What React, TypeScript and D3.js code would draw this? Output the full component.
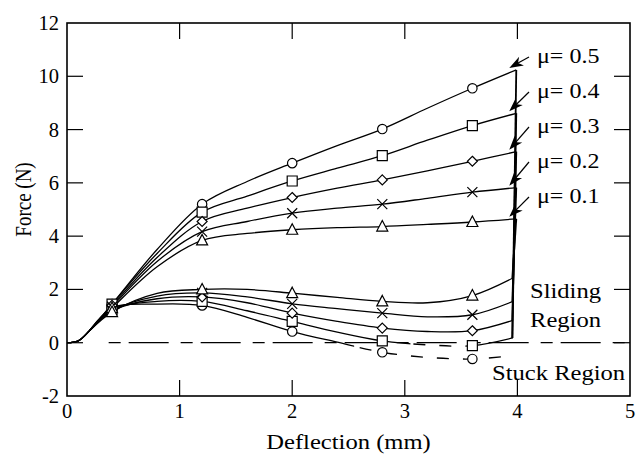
import React from 'react';
import * as d3 from 'd3';

// friction coefficients, top curve first
const mu = [0.5, 0.4, 0.3, 0.2, 0.1];
const shapes = ['circle', 'square', 'diamond', 'cross', 'triangle'];

// loading branch (upper curves)
const loadX = [0, 0.1, 0.2, 0.4, 0.8, 1.2, 1.6, 2.0, 2.4, 2.8, 3.2, 3.6, 3.99];
const loadForce = [
  [0, 0.07, 0.45, 1.45, 3.5, 5.2, 6.05, 6.74, 7.4, 8.02, 8.8, 9.55, 10.24],
  [0, 0.07, 0.45, 1.45, 3.35, 4.9, 5.5, 6.07, 6.55, 7.02, 7.6, 8.15, 8.61],
  [0, 0.07, 0.45, 1.4, 3.2, 4.55, 5.05, 5.45, 5.8, 6.11, 6.45, 6.81, 7.17],
  [0, 0.07, 0.45, 1.35, 3.05, 4.17, 4.55, 4.86, 5.05, 5.2, 5.42, 5.65, 5.82],
  [0, 0.07, 0.45, 1.3, 2.85, 3.84, 4.1, 4.24, 4.32, 4.36, 4.44, 4.53, 4.65],
];

// unloading branch (lower curves)
const unloadX = [0.2, 0.4, 0.8, 1.2, 1.6, 2.0, 2.4, 2.8, 3.2, 3.6, 3.96];
const unloadForce = [
  [0.45, 1.3, 1.45, 1.4, 0.95, 0.42, 0.02, -0.36, -0.55, -0.61, -0.49],
  [0.45, 1.25, 1.55, 1.55, 1.2, 0.8, 0.4, 0.07, -0.08, -0.11, 0.18],
  [0.45, 1.2, 1.65, 1.72, 1.5, 1.11, 0.8, 0.55, 0.42, 0.45, 0.84],
  [0.45, 1.2, 1.75, 1.87, 1.72, 1.46, 1.28, 1.11, 0.97, 1.05, 1.55],
  [0.45, 1.15, 1.85, 2.0, 2.0, 1.86, 1.7, 1.55, 1.5, 1.77, 2.43],
];

// where each unloading curve sticks (dashed)
const stuckFrom = [2.55, 3.05, null, null, null];
const stuckTo = [4.2, 3.6, null, null, null];
// bottom of the vertical drop at 4 mm
const dropBottom = [0.18, 0.18, 0.84, 1.55, 2.43];

const markerX = [0.4, 1.2, 2.0, 2.8, 3.6];
const xTicks = [0, 1, 2, 3, 4, 5];
const yTicks = [-2, 0, 2, 4, 6, 8, 10, 12];

const W = 636;
const H = 456;
const M = { left: 67, right: 6, top: 23, bottom: 60 };
const FONT = "'Liberation Serif', 'Times New Roman', Times, serif";
const SX = 1.2; // the figure's text is a little wider than tall

function markerPath(shape: string, cx: number, cy: number) {
  const s = 5;
  if (shape === 'circle') return `M${cx - 4.7},${cy}a4.7,4.7 0 1,0 9.4,0a4.7,4.7 0 1,0 -9.4,0Z`;
  if (shape === 'square') return `M${cx - s},${cy - s}h${2 * s}v${2 * s}h${-2 * s}Z`;
  if (shape === 'diamond') return `M${cx},${cy - s}L${cx + s},${cy}L${cx},${cy + s}L${cx - s},${cy}Z`;
  if (shape === 'cross') return `M${cx - s},${cy - s}L${cx + s},${cy + s}M${cx + s},${cy - s}L${cx - s},${cy + s}`;
  return `M${cx},${cy - 6}L${cx + 5.5},${cy + 4.5}L${cx - 5.5},${cy + 4.5}Z`;
}

function Label({ x, y, size, anchor, sx, children }: { x: number; y: number; size: number; anchor?: string; sx?: number; children: React.ReactNode }) {
  return (
    <text transform={`translate(${x},${y}) scale(${sx ?? SX},1)`} fontSize={size} textAnchor={anchor || 'start'}>
      {children}
    </text>
  );
}

export default function App() {
  const x = d3.scaleLinear().domain([0, 5]).range([M.left, W - M.right]);
  const y = d3.scaleLinear().domain([-2, 12]).range([H - M.bottom, M.top]);
  const line = d3
    .line<[number, number]>()
    .x(d => x(d[0]))
    .y(d => y(d[1]))
    .curve(d3.curveCatmullRom.alpha(0.5));

  const x0 = x(0), x1 = x(5), y0 = y(12), y1 = y(-2);
  const tick = 16;

  const valueAt = (xs: number[], ys: number[], v: number) => ys[xs.indexOf(v)];

  return (
    <svg width={W} height={H} style={{ position: 'absolute', left: 0, top: 0, background: '#fff', fontFamily: FONT }}>
      <defs>
        {mu.map((m, i) => {
          const a = stuckFrom[i];
          const b = stuckTo[i];
          return (
            <React.Fragment key={m}>
              <clipPath id={`solid${i}`}>
                {a === null ? (
                  <rect x={0} y={0} width={W} height={H} />
                ) : (
                  <>
                    <rect x={0} y={0} width={x(a)} height={H} />
                    <rect x={x(b as number)} y={0} width={W} height={H} />
                  </>
                )}
              </clipPath>
              {a !== null && (
                <clipPath id={`stuck${i}`}>
                  <rect x={x(a)} y={0} width={x(b as number) - x(a)} height={H} />
                </clipPath>
              )}
            </React.Fragment>
          );
        })}
      </defs>

      {/* zero line */}
      <line x1={x(0.37)} x2={x1} y1={y(0)} y2={y(0)} stroke="#000" strokeWidth={1.2} strokeDasharray="12,8,40,12" />

      {/* curves */}
      {mu.map((m, i) => {
        const up = loadX.map((v, j) => [v, loadForce[i][j]] as [number, number]);
        const down = unloadX.map((v, j) => [v, unloadForce[i][j]] as [number, number]);
        const endUp = loadForce[i][loadForce[i].length - 1];
        return (
          <g key={m} fill="none" stroke="#000" strokeWidth={1.3}>
            <path d={line(up) as string} />
            <path d={line(down) as string} clipPath={`url(#solid${i})`} />
            {stuckFrom[i] !== null && (
              <path d={line(down) as string} clipPath={`url(#stuck${i})`} strokeDasharray="12,14" />
            )}
            <line x1={x(3.99)} y1={y(endUp)} x2={x(3.955)} y2={y(dropBottom[i])} strokeWidth={1.8} />
          </g>
        );
      })}

      {/* markers */}
      {mu.map((m, i) => (
        <g key={m} fill="#fff" stroke="#000" strokeWidth={1.2}>
          {markerX.map(v => (
            <React.Fragment key={v}>
              <path d={markerPath(shapes[i], x(v), y(valueAt(loadX, loadForce[i], v)))} />
              <path d={markerPath(shapes[i], x(v), y(valueAt(unloadX, unloadForce[i], v)))} />
            </React.Fragment>
          ))}
        </g>
      ))}

      {/* frame and ticks */}
      <rect x={x0} y={y0} width={x1 - x0} height={y1 - y0} fill="none" stroke="#000" strokeWidth={1.6} />
      <g stroke="#000" strokeWidth={1.2}>
        {xTicks.slice(1, -1).map(t => (
          <React.Fragment key={t}>
            <line x1={x(t)} x2={x(t)} y1={y1} y2={y1 - tick} />
            <line x1={x(t)} x2={x(t)} y1={y0} y2={y0 + tick} />
          </React.Fragment>
        ))}
        {yTicks.slice(1, -1).map(t => (
          <React.Fragment key={t}>
            <line x1={x0} x2={x0 + tick} y1={y(t)} y2={y(t)} />
            <line x1={x1} x2={x1 - tick} y1={y(t)} y2={y(t)} />
          </React.Fragment>
        ))}
      </g>

      {/* tick labels */}
      <g fill="#000">
        {xTicks.map(t => (
          <Label key={t} x={x(t)} y={y1 + 22} size={20.5} sx={1} anchor="middle">{t}</Label>
        ))}
        {yTicks.map(t => (
          <Label key={t} x={x0 - 8} y={y(t) + 7} size={20.5} sx={1} anchor="end">{t}</Label>
        ))}
      </g>

      <Label x={(x0 + x1) / 2} y={449} size={20.5} anchor="middle">Deflection (mm)</Label>
      <text transform={`translate(31,${(y0 + y1) / 2 - 10}) rotate(-90) scale(1,${SX})`} textAnchor="middle" fontSize={19}>Force (N)</text>

      {/* mu labels with arrows */}
      {mu.map((m, i) => {
        const base = 63 + i * 35;
        const endUp = loadForce[i][loadForce[i].length - 1];
        const tx = 529, ty = base - 6;
        const hx = x(3.99) - 7, hy = y(endUp) - 2;
        const dx = hx - tx, dy = hy - ty;
        const len = Math.hypot(dx, dy);
        const ux = dx / len, uy = dy / len;
        const bx = hx - ux * 14, by = hy - uy * 14;
        const nx = -uy, ny = ux;
        const head = `M${hx},${hy}L${bx + nx * 5},${by + ny * 5}L${hx - ux * 10},${hy - uy * 10}L${bx - nx * 5},${by - ny * 5}Z`;
        return (
          <g key={m}>
            <line x1={tx} y1={ty} x2={hx - ux * 8} y2={hy - uy * 8} stroke="#000" strokeWidth={1.2} />
            <path d={head} fill="#000" />
            <Label x={537} y={base} size={20}>μ= {m}</Label>
          </g>
        );
      })}

      <Label x={530} y={298} size={20.5}>Sliding</Label>
      <Label x={530} y={327} size={20.5}>Region</Label>
      <Label x={492} y={380} size={20.5}>Stuck Region</Label>
    </svg>
  );
}
